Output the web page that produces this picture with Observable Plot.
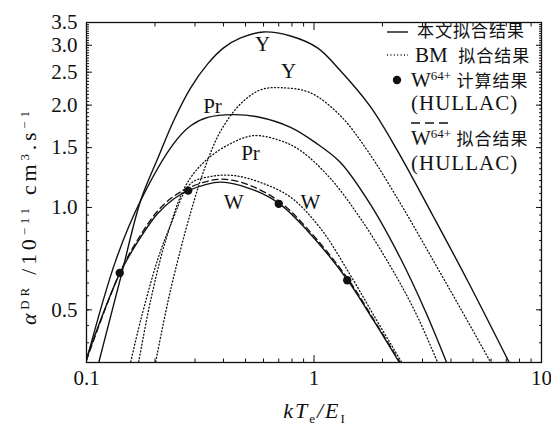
<!DOCTYPE html>
<html><head><meta charset="utf-8">
<script src="https://cdn.jsdelivr.net/npm/d3@7"></script>
<script src="https://cdn.jsdelivr.net/npm/@observablehq/plot@0.6"></script>
<style>body{margin:0;background:#fff} svg{display:block}</style>
</head><body><div id="chart"></div>
<script>
// ---- tick values ----
const xMajor = [0.1, 1, 10];
const xMajorLabels = ["0.1", "1", "10"];
const xMinor = [0.2,0.3,0.4,0.5,0.6,0.7,0.8,0.9,2,3,4,5,6,7,8,9];
const yMajor = [0.5, 1.0, 1.5, 2.0, 2.5, 3.0, 3.5];
const yMajorLabels = ["0.5","1.0","1.5","2.0","2.5","3.0","3.5"];
const yMinor = d3.range(35, 351, 5).map(v => v / 100);

// ---- this work fits (solid) ----
const thisY_x = [0.1132,0.1414,0.173,0.2056,0.2416,0.287,0.341,0.4005,0.476,0.600,0.789,1.036,1.307,1.77,2.326,3.346,4.72,7.21];
const thisY_y = [0.35,0.623,1.048,1.393,1.80,2.249,2.645,2.947,3.152,3.283,3.195,2.947,2.524,1.979,1.47,0.941,0.611,0.35];
const thisPr_x = [0.1,0.1345,0.173,0.2416,0.287,0.341,0.443,0.563,0.789,1.015,1.307,1.77,2.398,3.087,3.816];
const thisPr_y = [0.355,0.699,1.048,1.541,1.74,1.84,1.875,1.848,1.72,1.551,1.356,1.021,0.709,0.4955,0.352];
const thisW_x = [0.1,0.1404,0.173,0.205,0.2424,0.280,0.389,0.526,0.706,0.9335,1.407,1.824,2.36];
const thisW_y = [0.36,0.642,0.818,0.959,1.061,1.121,1.187,1.135,1.025,0.856,0.611,0.466,0.352];
// ---- BM fits (dotted) ----
const bmY_x = [0.2015,0.234,0.287,0.334,0.389,0.476,0.583,0.725,0.965,1.307,1.717,2.398,3.246,4.398,5.955];
const bmY_y = [0.352,0.571,0.967,1.328,1.68,2.019,2.219,2.25,2.174,1.861,1.47,1.028,0.723,0.5057,0.352];
const bmPr_x = [0.1697,0.1915,0.2229,0.273,0.334,0.43,0.5426,0.713,0.873,1.181,1.600,2.167,2.79,3.484];
const bmPr_y = [0.352,0.534,0.80,1.16,1.374,1.541,1.627,1.572,1.47,1.217,0.9286,0.6716,0.492,0.352];
const bmW_x = [0.1565,0.173,0.205,0.234,0.287,0.351,0.443,0.583,0.789,1.068,1.446,1.862,2.42];
const bmW_y = [0.352,0.466,0.699,0.886,1.176,1.233,1.242,1.184,1.072,0.868,0.632,0.4725,0.352];
// ---- HULLAC fit for W64+ (dashed) ----
const hfW_x = [0.1,0.1404,0.173,0.205,0.2424,0.280,0.35,0.41,0.526,0.706,0.9335,1.407,1.824,2.38];
const hfW_y = [0.355,0.645,0.83,0.975,1.08,1.14,1.2,1.21,1.16,1.04,0.868,0.618,0.47,0.352];
// ---- HULLAC computed points for W64+ ----
const hcW_x = [0.14, 0.28, 0.70, 1.40];
const hcW_y = [0.642, 1.121, 1.025, 0.611];
// ---- curve labels ----
const labelText = ["Y","Y","Pr","Pr","W","W"];
const labelX = [0.594,0.773,0.358,0.526,0.443,0.965];
const labelY = [3.03,2.52,1.99,1.44,1.034,1.034];

const series = [
  {name:"thisY", kind:"solid", xs:thisY_x, ys:thisY_y},
  {name:"thisPr", kind:"solid", xs:thisPr_x, ys:thisPr_y},
  {name:"thisW", kind:"solid", xs:thisW_x, ys:thisW_y},
  {name:"bmY", kind:"dotted", xs:bmY_x, ys:bmY_y},
  {name:"bmPr", kind:"dotted", xs:bmPr_x, ys:bmPr_y},
  {name:"bmW", kind:"dotted", xs:bmW_x, ys:bmW_y},
  {name:"hfW", kind:"dashed", xs:hfW_x, ys:hfW_y}
];
const rows = series.flatMap(s => s.xs.map((x, i) => ({series: s.name, kind: s.kind, x, y: s.ys[i]})));
const pts = hcW_x.map((x, i) => ({x, y: hcW_y[i]}));
const labels = labelText.map((t, i) => ({t, x: labelX[i], y: labelY[i]}));
const xLab = new Map(xMajor.map((v, i) => [v, xMajorLabels[i]]));
const yLab = new Map(yMajor.map((v, i) => [v, yMajorLabels[i]]));

const serif = "'Liberation Serif', 'DejaVu Serif', serif";
const cjk = "'Noto Sans CJK SC', sans-serif";
const ink = "#111";
const blank = () => "";

const plot = Plot.plot({
  width: 551, height: 426,
  marginLeft: 86, marginRight: 10, marginTop: 22, marginBottom: 64,
  style: {fontFamily: serif, fontSize: "21px", color: ink, background: "#fff"},
  x: {type: "log", domain: [0.1, 10]},
  y: {type: "log", domain: [0.35, 3.5]},
  marks: [
    Plot.line(rows.filter(d => d.kind === "dotted"), {x: "x", y: "y", z: "series", curve: "catmull-rom", stroke: ink, strokeWidth: 1.3, strokeDasharray: "1,2.4", clip: true}),
    Plot.line(rows.filter(d => d.kind === "dashed"), {x: "x", y: "y", z: "series", curve: "catmull-rom", stroke: ink, strokeWidth: 1.3, strokeDasharray: "6,4", clip: true}),
    Plot.line(rows.filter(d => d.kind === "solid"), {x: "x", y: "y", z: "series", curve: "catmull-rom", stroke: ink, strokeWidth: 1.4, clip: true}),
    Plot.dot(pts, {x: "x", y: "y", r: 4.2, fill: ink, stroke: "none"}),
    Plot.text(labels, {x: "x", y: "y", text: "t", fontSize: 21, fontFamily: serif, fill: ink}),
    // inward ticks
    Plot.axisX(xMinor, {anchor: "bottom", tickSize: -3.5, tickFormat: blank, label: null, stroke: ink}),
    Plot.axisX(xMajor, {anchor: "bottom", tickSize: -7, tickFormat: blank, label: null, stroke: ink}),
    Plot.axisX(xMinor, {anchor: "top", tickSize: -3.5, tickFormat: blank, label: null, stroke: ink}),
    Plot.axisX(xMajor, {anchor: "top", tickSize: -7, tickFormat: blank, label: null, stroke: ink}),
    Plot.axisY(yMinor, {anchor: "left", tickSize: -3, tickFormat: blank, label: null, stroke: ink}),
    Plot.axisY(yMajor, {anchor: "left", tickSize: -6, tickFormat: blank, label: null, stroke: ink}),
    Plot.axisY(yMinor, {anchor: "right", tickSize: -3, tickFormat: blank, label: null, stroke: ink}),
    Plot.axisY(yMajor, {anchor: "right", tickSize: -6, tickFormat: blank, label: null, stroke: ink}),
    // tick labels
    Plot.axisX(xMajor, {anchor: "bottom", tickSize: 0, tickPadding: 8, tickFormat: d => xLab.get(d), label: null, fontSize: 21, fill: ink}),
    Plot.axisY(yMajor, {anchor: "left", tickSize: 0, tickPadding: 9, tickFormat: d => yLab.get(d), label: null, fontSize: 21, fill: ink}),
    Plot.frame({stroke: ink, strokeWidth: 1.3})
  ]
});
document.getElementById("chart").appendChild(plot);

// ---- titles and legend (annotation text) ----
const svg = d3.select(plot);
function rich(g, parts, attrs) {
  const t = g.append("text").attr("text-anchor", "start");
  Object.entries(attrs).forEach(([k, v]) => t.attr(k, v));
  let shift = 0;
  parts.forEach(p => {
    const s = t.append("tspan").text(p.t);
    const target = p.sup ? -7 : p.sub ? 5 : 0;
    if (target !== shift) { s.attr("dy", target - shift); shift = target; }
    if (p.sup || p.sub) s.attr("font-size", 13);
    if (p.it) s.attr("font-style", "italic");
    if (p.cjk) s.attr("font-family", cjk).attr("font-size", 17).attr("letter-spacing", 1);
  });
  return t;
}
const ann = svg.append("g").attr("fill", ink).attr("font-family", serif).attr("font-size", 22);
rich(ann, [{t:"α", it:true},{t:"DR", sup:true},{t:" /10"},{t:"−11", sup:true},{t:" cm"},{t:"3", sup:true},{t:".s"},{t:"−1", sup:true}],
  {transform: "translate(36,218) rotate(-90)", "text-anchor": "middle", textLength: 214, lengthAdjust: "spacing"});
rich(ann, [{t:"kT", it:true},{t:"e", sub:true},{t:"/", it:true},{t:"E", it:true},{t:"I", sub:true}],
  {x: 315, y: 418, "text-anchor": "middle", "font-size": 22, "letter-spacing": 2});

// legend
const lg = svg.append("g").attr("fill", ink).attr("font-family", serif).attr("font-size", 21);
lg.append("line").attr("x1", 387).attr("x2", 408).attr("y1", 32).attr("y2", 32).attr("stroke", ink).attr("stroke-width", 1.4);
rich(lg, [{t:"本文拟合结果", cjk:true}], {x: 417, y: 37});
lg.append("line").attr("x1", 387).attr("x2", 408).attr("y1", 55).attr("y2", 55).attr("stroke", ink).attr("stroke-width", 1.3).attr("stroke-dasharray", "1,2.4");
rich(lg, [{t:"BM  "},{t:"拟合结果", cjk:true}], {x: 415, y: 62});
lg.append("circle").attr("cx", 397).attr("cy", 80).attr("r", 4.2).attr("fill", ink);
rich(lg, [{t:"W"},{t:"64+", sup:true},{t:" "},{t:"计算结果", cjk:true}], {x: 411, y: 87});
rich(lg, [{t:"(HULLAC)"}], {x: 411, y: 110, "letter-spacing": 1});
lg.append("line").attr("x1", 411).attr("x2", 453).attr("y1", 123).attr("y2", 123).attr("stroke", ink).attr("stroke-width", 1.4).attr("stroke-dasharray", "9,5");
rich(lg, [{t:"W"},{t:"64+", sup:true},{t:" "},{t:"拟合结果", cjk:true}], {x: 411, y: 145});
rich(lg, [{t:"(HULLAC)"}], {x: 411, y: 170, "letter-spacing": 1});
</script></body></html>
